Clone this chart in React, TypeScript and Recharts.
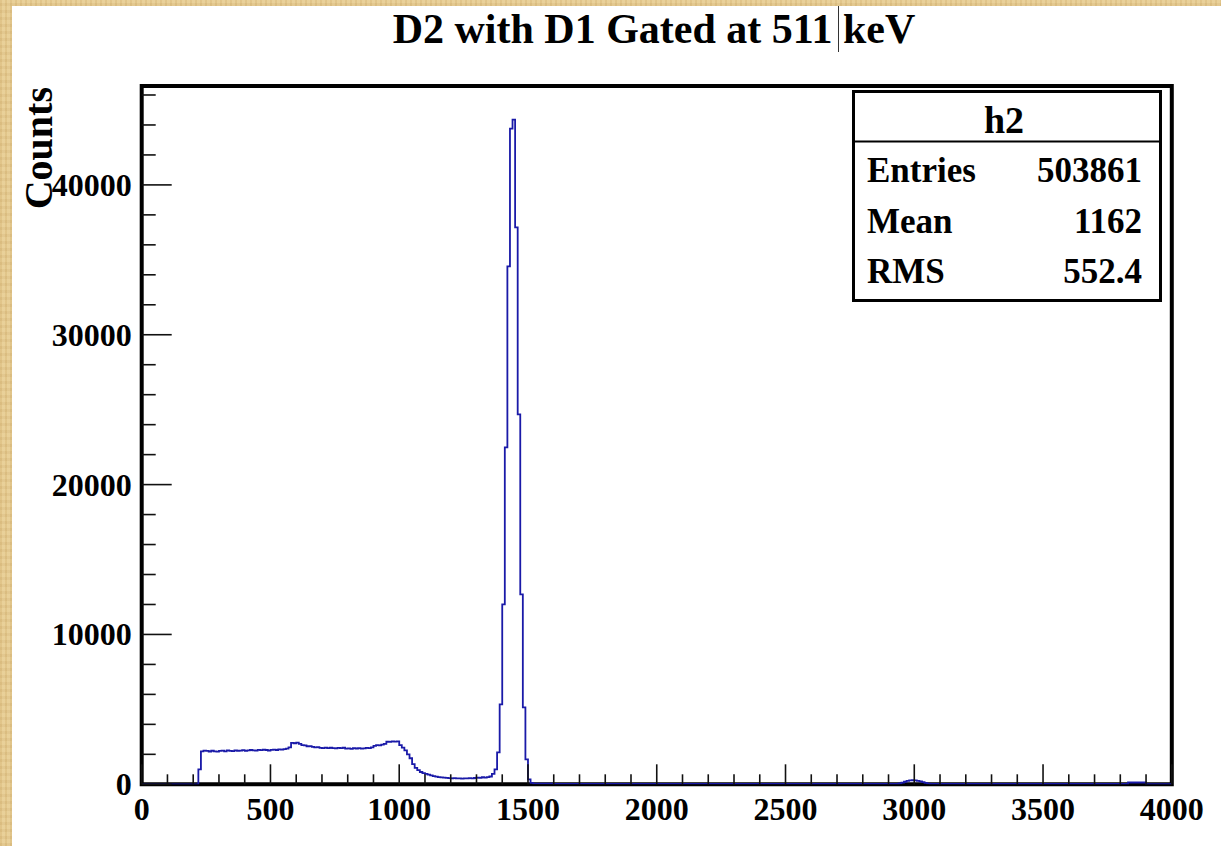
import React from 'react';
import { LineChart, Line, XAxis, YAxis, ReferenceArea } from 'recharts';

// ---------------- DATA ----------------
const BIN_WIDTH = 10; // keV per histogram bin

// flat runs before the Compton continuum: [startKeV, counts]
const leadingRuns: [number, number][] = [[0, 0]];

// Compton continuum, 10 keV bins starting at 220 keV
const continuumStart = 220;
const continuumCounts = [
  1000, 2200, 2250, 2230, 2190, 2240, 2200, 2180, 2230, 2250,
  2200, 2260, 2230, 2210, 2260, 2240, 2250, 2280, 2230, 2260,
  2290, 2270, 2250, 2300, 2280, 2310, 2290, 2250, 2300, 2320,
  2290, 2330, 2310, 2350, 2380, 2470, 2760, 2740, 2780, 2700,
  2620, 2600, 2540, 2550, 2500, 2460, 2480, 2430, 2420, 2450,
  2410, 2440, 2420, 2400, 2430, 2410, 2440, 2380, 2400, 2370,
  2410, 2390, 2420, 2380, 2400, 2430, 2410, 2460, 2560, 2620,
  2600, 2650, 2700, 2840, 2830, 2870, 2850, 2860, 2620, 2450,
  2260, 2000, 1740, 1350, 1100, 950, 820, 740, 690, 640,
  590, 540, 510, 480, 460, 440, 430, 410, 400, 410,
  390, 400, 380, 400, 390, 410, 400, 420, 450, 430,
  470, 450, 480, 520, 700,
];

// photopeak, 10 keV bins starting at 1370 keV
const peakStart = 1370;
const peakCounts = [
  1000, 2130, 5340, 12010, 22480, 34560, 43760, 44360, 37160, 24680,
  12680, 5140, 1670, 330, 100,
];

// flat runs after the photopeak: [startKeV, counts]
const tailRuns: [number, number][] = [
  [1520, 45], [1600, 30], [2000, 25], [2600, 20], [2940, 60],
];

// small sum peak near 3000 keV, 10 keV bins
const sumPeakStart = 2950;
const sumPeakCounts = [110, 170, 230, 260, 270, 260, 230, 190, 140, 90, 50];

// flat runs at the end: [startKeV, counts]
const endRuns: [number, number][] = [[3060, 20], [3830, 120], [3900, 15]];

const X_MAX = 4000;
const Y_MAX = 46600;

const xTickValues = [
  0, 100, 200, 300, 400, 500, 600, 700, 800, 900, 1000, 1100, 1200, 1300,
  1400, 1500, 1600, 1700, 1800, 1900, 2000, 2100, 2200, 2300, 2400, 2500,
  2600, 2700, 2800, 2900, 3000, 3100, 3200, 3300, 3400, 3500, 3600, 3700,
  3800, 3900, 4000,
];
const xTickLabels = [0, 500, 1000, 1500, 2000, 2500, 3000, 3500, 4000];
const yTickValues = [
  0, 2000, 4000, 6000, 8000, 10000, 12000, 14000, 16000, 18000, 20000,
  22000, 24000, 26000, 28000, 30000, 32000, 34000, 36000, 38000, 40000,
  42000, 44000, 46000,
];
const yTickLabels = [0, 10000, 20000, 30000, 40000];

const chartTitle = 'D2 with D1 Gated at 511 keV';
const yAxisTitle = 'Counts';
const statsName = 'h2';
const statsLabels = ['Entries', 'Mean', 'RMS'];
const statsValues = ['503861', '1162', '552.4'];

// ---------------- BUILD SERIES ----------------
const fromBins = (start: number, counts: number[]) =>
  counts.map((c, i) => ({ x: start + i * BIN_WIDTH, y: c }));
const fromRuns = (runs: [number, number][]) => runs.map(([x, y]) => ({ x, y }));

const body = [
  ...fromRuns(leadingRuns),
  ...fromBins(continuumStart, continuumCounts),
  ...fromBins(peakStart, peakCounts),
  ...fromRuns(tailRuns),
  ...fromBins(sumPeakStart, sumPeakCounts),
  ...fromRuns(endRuns),
];
const histData = [...body, { x: X_MAX, y: body[body.length - 1].y }];

// ---------------- STYLE ----------------
const FONT = '"Liberation Serif", "Times New Roman", Times, serif';
const W = 1221;
const H = 846;
const PLOT_LEFT = 141.7;
const PLOT_RIGHT = 1171.8;
const PLOT_TOP = 86;
const PLOT_BOTTOM = 784.3;
const X_AXIS_H = 40;

const XTick = (props: any) => {
  const { x, y, payload } = props;
  const v = payload.value;
  const major = xTickLabels.includes(v);
  return (
    <g>
      <line x1={x} x2={x} y1={y} y2={y - (major ? 20 : 10)} stroke="#111" strokeWidth={1.6} />
      {major && (
        <text x={x} y={y + 36} textAnchor="middle" fontFamily={FONT} fontWeight="bold" fontSize={32} fill="#000">
          {v}
        </text>
      )}
    </g>
  );
};

const YTick = (props: any) => {
  const { x, y, payload } = props;
  const v = payload.value;
  const major = yTickLabels.includes(v);
  return (
    <g>
      <line x1={x} x2={x + (major ? 30 : 14)} y1={y} y2={y} stroke="#111" strokeWidth={1.6} />
      {major && (
        <text x={x - 10} y={y + 11} textAnchor="end" fontFamily={FONT} fontWeight="bold" fontSize={32} fill="#000">
          {v}
        </text>
      )}
    </g>
  );
};

export default function App() {
  return (
    <div
      style={{
        position: 'fixed',
        left: 0,
        top: 0,
        width: W,
        height: H,
        overflow: 'hidden',
        background:
          'repeating-linear-gradient(90deg, rgba(170,130,60,0.10) 0px, rgba(170,130,60,0.10) 2px, rgba(255,245,210,0.10) 2px, rgba(255,245,210,0.10) 5px), repeating-linear-gradient(0deg, rgba(150,110,50,0.08) 0px, rgba(150,110,50,0.08) 3px, rgba(255,240,200,0.06) 3px, rgba(255,240,200,0.06) 7px), #e6ca8f',
      }}
    >
      <div style={{ position: 'absolute', left: 12, top: 6, width: W - 12, height: H - 6, background: '#fff' }} />
      <div style={{ position: 'absolute', left: 0, top: 0 }}>
        <LineChart
          width={W}
          height={H}
          data={histData}
          margin={{ top: PLOT_TOP, right: W - PLOT_RIGHT, bottom: H - PLOT_BOTTOM - X_AXIS_H, left: 0 }}
        >
          <XAxis
            dataKey="x"
            type="number"
            domain={[0, X_MAX]}
            ticks={xTickValues}
            interval={0}
            height={X_AXIS_H}
            tickSize={0}
            tickMargin={0}
            tickLine={false}
            axisLine={false}
            tick={<XTick />}
            allowDataOverflow
          />
          <YAxis
            type="number"
            domain={[0, Y_MAX]}
            ticks={yTickValues}
            interval={0}
            width={PLOT_LEFT}
            tickSize={0}
            tickMargin={0}
            tickLine={false}
            axisLine={false}
            tick={<YTick />}
            allowDataOverflow
          />
          <ReferenceArea
            x1={0}
            x2={X_MAX}
            y1={0}
            y2={Y_MAX}
            fill="none"
            fillOpacity={0}
            stroke="#000"
            strokeWidth={4}
            ifOverflow="visible"
          />
          <Line
            dataKey="y"
            type="stepAfter"
            stroke="#1a1aa8"
            strokeWidth={1.8}
            dot={false}
            activeDot={false}
            isAnimationActive={false}
          />
        </LineChart>
      </div>
      <svg
        width={W}
        height={H}
        style={{ position: 'absolute', left: 0, top: 0, pointerEvents: 'none' }}
      >
        <text x={654} y={43} textAnchor="middle" fontFamily={FONT} fontWeight="bold" fontSize={42} fill="#000">
          {chartTitle}
        </text>
        <line x1={838.5} x2={838.5} y1={6} y2={52} stroke="#333" strokeWidth={1} />
        <text
          x={52}
          y={87}
          transform="rotate(-90 52 87)"
          textAnchor="end"
          fontFamily={FONT}
          fontWeight="bold"
          fontSize={40}
          fill="#000"
        >
          {yAxisTitle}
        </text>
        <rect x={853.5} y={91.5} width={307} height={209} fill="#fff" stroke="#000" strokeWidth={3} />
        <line x1={853} x2={1161} y1={141.5} y2={141.5} stroke="#000" strokeWidth={2} />
        <text x={1004} y={133} textAnchor="middle" fontFamily={FONT} fontWeight="bold" fontSize={38} fill="#000">
          {statsName}
        </text>
        {statsLabels.map((lab, i) => (
          <g key={lab}>
            <text x={867} y={182 + i * 50.7} fontFamily={FONT} fontWeight="bold" fontSize={35} fill="#000">
              {lab}
            </text>
            <text x={1142} y={182 + i * 50.7} textAnchor="end" fontFamily={FONT} fontWeight="bold" fontSize={35} fill="#000">
              {statsValues[i]}
            </text>
          </g>
        ))}
      </svg>
    </div>
  );
}
